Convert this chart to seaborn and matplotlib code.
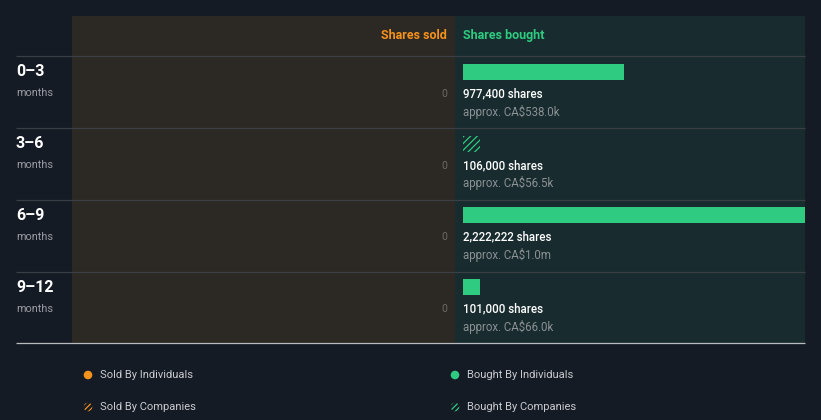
import matplotlib
matplotlib.use("Agg")
import matplotlib.pyplot as plt
from matplotlib.patches import Circle
import seaborn as sns
import pandas as pd

# ---------------- data ----------------
periods = ["0–3", "3–6", "6–9", "9–12"]
period_unit = "months"
sold_individuals = [0, 0, 0, 0]
sold_companies = [0, 0, 0, 0]
bought_individuals = [977400, 0, 2222222, 101000]
bought_companies = [0, 106000, 0, 0]
bought_value_labels = ["approx. CA$538.0k", "approx. CA$56.5k", "approx. CA$1.0m", "approx. CA$66.0k"]
header_sold = "Shares sold"
header_bought = "Shares bought"
legend_sold = ["Sold By Individuals", "Sold By Companies"]
legend_bought = ["Bought By Individuals", "Bought By Companies"]

# ---------------- style ----------------
BG = "#151b25"
SOLD_BG = "#2c2823"
BOUGHT_BG = "#182b2e"
GREEN = "#2ecb80"
ORANGE = "#f5921b"
GRID = "#3a3f45"

sns.set_theme(style="dark")
plt.rcParams["font.family"] = ["Roboto", "DejaVu Sans"]
plt.rcParams["hatch.linewidth"] = 0.9

W, H = 821, 420
fig = plt.figure(figsize=(W / 100, H / 100), dpi=100, facecolor=BG)


def fx(x):
    return x / W


def fy(y):
    return 1 - y / H


df = pd.DataFrame({
    "period": periods,
    "sold_ind": sold_individuals,
    "sold_comp": sold_companies,
    "bought_ind": bought_individuals,
    "bought_comp": bought_companies,
})

ROW = 72.0
BAR_W = 16 / ROW
TOP_OFF = 16 / ROW  # bar centre below row top
HEAD = 40 / ROW
s = 977400 / 161.0  # shares per pixel

ax_s = fig.add_axes([fx(72), fy(343), (455 - 72) / W, (343 - 16) / H])
ax_b = fig.add_axes([fx(455), fy(343), (805 - 455) / W, (343 - 16) / H])

for ax, fc in ((ax_s, SOLD_BG), (ax_b, BOUGHT_BG)):
    ax.set_facecolor(fc)

# sold bars (all zero)
sns.barplot(data=df, y="period", x="sold_ind", ax=ax_s, color=ORANGE, width=BAR_W,
            linewidth=0, saturation=1, errorbar=None, orient="h")
sns.barplot(data=df, y="period", x="sold_comp", ax=ax_s, color=ORANGE, width=BAR_W,
            linewidth=0, saturation=1, errorbar=None, orient="h")
for p in ax_s.containers[-1]:
    p.set_facecolor("none")
    p.set_edgecolor(ORANGE)
    p.set_hatch("/////")

# bought bars
sns.barplot(data=df, y="period", x="bought_ind", ax=ax_b, color=GREEN, width=BAR_W,
            linewidth=0, saturation=1, errorbar=None, orient="h")
sns.barplot(data=df, y="period", x="bought_comp", ax=ax_b, color=GREEN, width=BAR_W,
            linewidth=0, saturation=1, errorbar=None, orient="h")
for p in ax_b.containers[-1]:
    p.set_facecolor("none")
    p.set_edgecolor(GREEN)
    p.set_linewidth(0)
    p.set_hatch("/////")

ylim = (3 + 1 - TOP_OFF, -TOP_OFF - HEAD)
ax_b.set_xlim(-8 * s, 342 * s)
ax_s.set_xlim(375 * s, -8 * s)
for ax in (ax_s, ax_b):
    ax.set_ylim(*ylim)
    ax.set_xticks([])
    ax.set_yticks([])
    ax.set_xlabel("")
    ax.set_ylabel("")
    ax.grid(False)
    for sp in ax.spines.values():
        sp.set_visible(False)

# headers
head_y = -TOP_OFF - 20 / ROW
ax_s.text(0, head_y, header_sold, ha="right", va="center", color=ORANGE,
          fontsize=9, fontweight="bold")
ax_b.text(0, head_y, header_bought, ha="left", va="center", color=GREEN,
          fontsize=9, fontweight="bold")

# value labels
for i in range(len(periods)):
    total_b = bought_individuals[i] + bought_companies[i]
    total_s = sold_individuals[i] + sold_companies[i]
    ax_b.text(0, i + 22 / ROW, f"{total_b:,} shares", ha="left", va="center",
              color="white", fontsize=8.3, fontweight="medium")
    ax_b.text(0, i + 40 / ROW, bought_value_labels[i], ha="left", va="center",
              color="#8b9095", fontsize=8.3)
    ax_s.text(0, i + 22 / ROW, f"{total_s:,}", ha="right", va="center",
              color="#6c6a66", fontsize=7.5)

# overlay for lines, row labels, legend
ov = fig.add_axes([0, 0, 1, 1], facecolor="none")
ov.set_xlim(0, W)
ov.set_ylim(H, 0)
ov.axis("off")

for i in range(len(periods)):
    y = 56 + ROW * i
    ov.plot([16, 805], [y, y], color=GRID, lw=0.9, solid_capstyle="butt")
    ov.text(16, y + 15.5, periods[i], ha="left", va="center", color="white",
            fontsize=11.5, fontweight="bold")
    ov.text(16, y + 37, period_unit, ha="left", va="center", color="#9a9da2",
            fontsize=7.8)
ov.plot([16, 805], [343, 343], color="#b8bbbf", lw=0.9, solid_capstyle="butt")

# legend
for (x, col, labels) in ((88, ORANGE, legend_sold), (455, GREEN, legend_bought)):
    ov.add_patch(Circle((x, 375), 4.3, facecolor=col, edgecolor="none"))
    ov.add_patch(Circle((x, 407), 4.3, facecolor="none", edgecolor=col, lw=0, hatch="//////"))
    ov.text(x + 12, 375, labels[0], ha="left", va="center", color="#c9cbcf", fontsize=8)
    ov.text(x + 12, 407, labels[1], ha="left", va="center", color="#c9cbcf", fontsize=8)

fig.savefig("out.png", dpi=100, facecolor=BG)
